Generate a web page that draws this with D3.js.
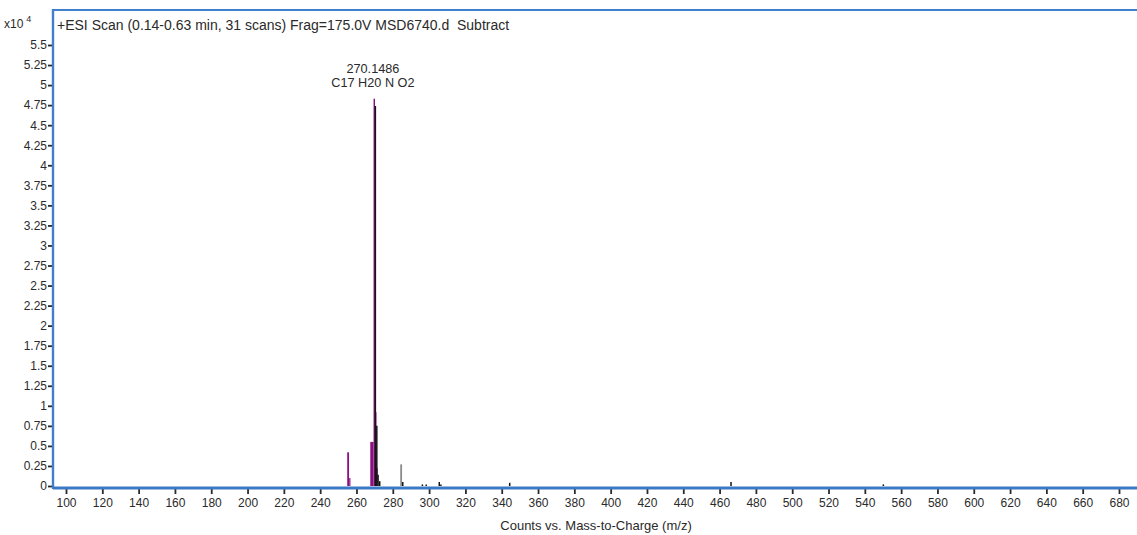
<!DOCTYPE html>
<html>
<head>
<meta charset="utf-8">
<script src="https://cdn.jsdelivr.net/npm/d3@7"></script>
<style>
  html, body { margin: 0; padding: 0; background: #fff; }
  svg { display: block; font-family: "Liberation Sans", Arial, sans-serif; }
</style>
</head>
<body>
<svg id="chart" width="1137" height="535"></svg>
<script>
// Spectrum header
const scanTitle = "+ESI Scan (0.14-0.63 min, 31 scans) Frag=175.0V MSD6740.d  Subtract";
const peakLabelMz = "270.1486";
const peakLabelFormula = "C17 H20 N O2";
const xAxisTitle = "Counts vs. Mass-to-Charge (m/z)";

// Axis ticks
const xTicks = d3.range(100, 681, 20);
const yTicks = d3.range(0, 5.51, 0.25);

// Matched isotope boxes (m/z start, m/z end, counts x10^4)
const boxStart = [254.9, 256.0, 267.6, 269.4, 270.2, 271.0];
const boxEnd   = [255.9, 256.6, 269.4, 270.2, 271.0, 271.7];
const boxCount = [0.42,  0.10,  0.55,  4.83,  0.92,  0.22];

// Centroid peaks (m/z, counts x10^4)
const peakMz    = [270.4, 271.2, 271.9, 272.8, 285.5, 296.3, 298.4, 305.6, 306.5, 344.4, 466.3, 550.2];
const peakCount = [4.74,  0.75,  0.14,  0.06,  0.05,  0.02,  0.02,  0.05,  0.02,  0.04,  0.05,  0.02];

// Unmatched peak shown in grey
const greyMz = [284.6];
const greyCount = [0.27];

const svg = d3.select("#chart");
const frameLeft = 53, frameTop = 10, frameRight = 1137, baseY = 488;
const x = d3.scaleLinear().domain([100, 680]).range([66, 1119]);
const y = d3.scaleLinear().domain([0, 5.5]).range([486, 45]);
const ink = "#2a2a2a";

// Y axis ticks and labels
const yAxis = d3.axisLeft(y).tickValues(yTicks).tickSize(5).tickPadding(1)
  .tickFormat(d => d3.format("~g")(+d.toFixed(2)));
const gy = svg.append("g").attr("transform", `translate(${frameLeft},0)`).call(yAxis);
gy.select(".domain").remove();
gy.selectAll("line").attr("stroke", ink).attr("stroke-width", 1.8);
gy.selectAll("text").attr("fill", ink).attr("font-size", 12);

// X axis ticks and labels
const xAxis = d3.axisBottom(x).tickValues(xTicks).tickSize(6).tickPadding(4);
const gx = svg.append("g").attr("transform", `translate(0,${baseY})`).call(xAxis);
gx.select(".domain").remove();
gx.selectAll("line").attr("stroke", ink).attr("stroke-width", 1.8);
gx.selectAll("text").attr("fill", ink).attr("font-size", 12);

// Grey peak
svg.append("g").selectAll("line").data(greyMz).join("line")
  .attr("x1", d => x(d)).attr("x2", d => x(d))
  .attr("y1", y(0)).attr("y2", (d, i) => y(greyCount[i]))
  .attr("stroke", "#8a8a8a").attr("stroke-width", 1.8);

// Isotope boxes
svg.append("g").selectAll("rect").data(boxStart).join("rect")
  .attr("x", d => x(d))
  .attr("width", (d, i) => Math.max(1.2, x(boxEnd[i]) - x(d)))
  .attr("y", (d, i) => y(boxCount[i]))
  .attr("height", (d, i) => y(0) - y(boxCount[i]))
  .attr("fill", "#8a0f80");

// Centroid peaks
svg.append("g").selectAll("line").data(peakMz).join("line")
  .attr("x1", d => x(d)).attr("x2", d => x(d))
  .attr("y1", y(0)).attr("y2", (d, i) => y(peakCount[i]))
  .attr("stroke", "#141414").attr("stroke-width", 1.5);

// Plot frame
svg.append("line").attr("x1", frameLeft).attr("x2", frameRight).attr("y1", frameTop).attr("y2", frameTop)
  .attr("stroke", "#3f7fce").attr("stroke-width", 2.2);
svg.append("line").attr("x1", frameLeft).attr("x2", frameLeft).attr("y1", frameTop - 1).attr("y2", baseY + 1)
  .attr("stroke", "#3f7fce").attr("stroke-width", 2.4);
svg.append("line").attr("x1", frameLeft).attr("x2", frameRight).attr("y1", baseY).attr("y2", baseY)
  .attr("stroke", "#3b78c6").attr("stroke-width", 3);

// Scale factor
const sf = svg.append("text").attr("x", 4).attr("y", 28).attr("font-size", 12).attr("fill", ink);
sf.append("tspan").text("x10");
sf.append("tspan").attr("dx", 3).attr("dy", -6).attr("font-size", 9).text("4");

// Title
svg.append("text").attr("x", 57).attr("y", 30).attr("font-size", 14).attr("fill", ink)
  .attr("xml:space", "preserve").text(scanTitle);

// Peak annotation
svg.append("text").attr("x", x(270.15) - 2).attr("y", 72.5).attr("text-anchor", "middle")
  .attr("font-size", 12.7).attr("fill", ink).text(peakLabelMz);
svg.append("text").attr("x", x(270.15) - 2).attr("y", 86.5).attr("text-anchor", "middle")
  .attr("font-size", 12.7).attr("fill", ink).text(peakLabelFormula);

// X axis title
svg.append("text").attr("x", 596).attr("y", 530).attr("text-anchor", "middle")
  .attr("font-size", 13).attr("fill", ink).text(xAxisTitle);
</script>
</body>
</html>
